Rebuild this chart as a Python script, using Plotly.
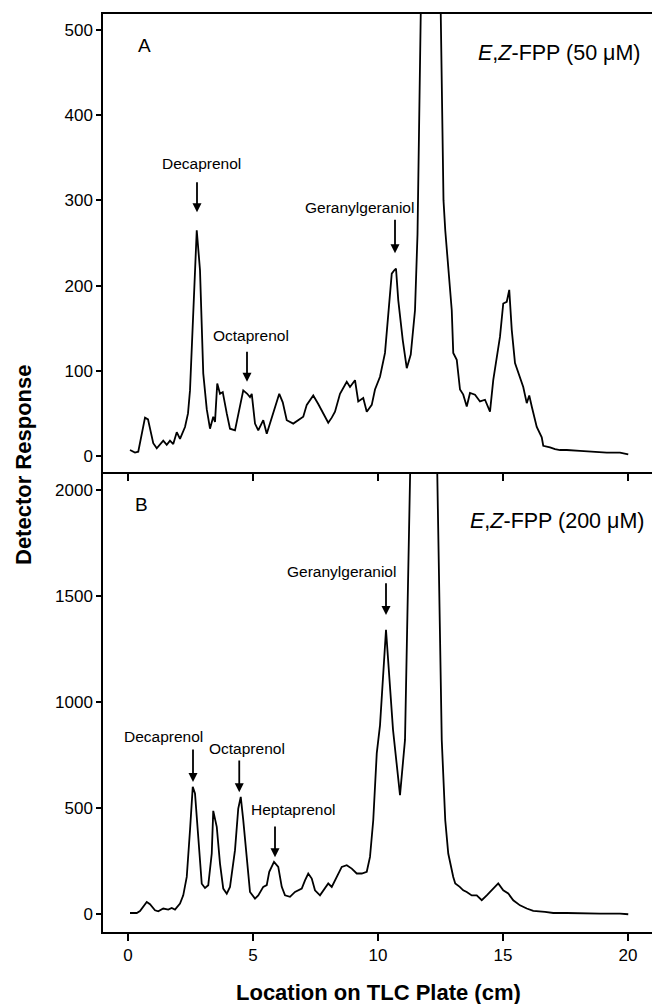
import plotly.graph_objects as go

# Panel A: E,Z-FPP (50 uM)
x_a = [0.08, 0.28, 0.41, 0.55, 0.68, 0.8, 0.9, 1.01, 1.15, 1.28, 1.41, 1.55, 1.68, 1.81, 1.95, 2.08,
       2.28, 2.4, 2.48, 2.75, 2.88, 3.01, 3.15, 3.28, 3.41, 3.48, 3.57, 3.68, 3.79, 3.95, 4.08, 4.28,
       4.41, 4.61, 4.77, 4.88, 4.95, 5.08, 5.21, 5.41, 5.55, 5.75, 5.95, 6.05, 6.19, 6.35, 6.61, 6.88,
       7.01, 7.15, 7.41, 7.61, 7.81, 8.01, 8.15, 8.28, 8.48, 8.75, 8.88, 9.08, 9.21, 9.41, 9.55, 9.75,
       9.88, 10.08, 10.28, 10.41, 10.55, 10.65, 10.72, 10.81, 10.99, 11.15, 11.31, 11.48, 11.58, 11.71,
       12.1, 12.51, 12.62, 12.69, 12.82, 12.95, 13.01, 13.15, 13.28, 13.41, 13.55, 13.68, 13.88, 14.08,
       14.28, 14.48, 14.61, 14.75, 14.88, 15.01, 15.15, 15.25, 15.35, 15.48, 15.68, 15.81, 15.95, 16.05,
       16.15, 16.35, 16.55, 16.61, 16.88, 17.08, 17.28, 17.55, 18.08, 18.61, 19.15, 19.68, 20.01]
y_a = [7, 4, 5, 25, 45, 43, 30, 15, 9, 13, 18, 13, 18, 14, 28, 20,
       34, 50, 77, 265, 218, 97, 55, 32, 46, 40, 85, 73, 75, 50, 32, 30,
       50, 77, 73, 69, 73, 38, 30, 42, 26, 46, 66, 73, 63, 42, 38, 44,
       46, 60, 71, 61, 50, 39, 45, 52, 73, 87, 81, 89, 64, 68, 52, 60,
       78, 93, 121, 171, 214, 218, 220, 183, 136, 103, 119, 171, 260, 519,
       1300, 519, 300, 265, 214, 171, 121, 113, 78, 72, 58, 74, 72, 64,
       66, 52, 89, 117, 140, 179, 181, 195, 148, 109, 93, 81, 62, 71,
       58, 34, 22, 12, 10, 8, 7, 7, 6, 5, 4, 4, 2]

# Panel B: E,Z-FPP (200 uM)
x_b = [0.08, 0.35, 0.48, 0.75, 0.88, 1.08, 1.21, 1.41, 1.61, 1.75, 1.88, 2.08, 2.21, 2.35, 2.48, 2.59,
       2.68, 2.81, 2.95, 3.08, 3.21, 3.35, 3.41, 3.55, 3.68, 3.81, 3.95, 4.08, 4.28, 4.41, 4.51, 4.61,
       4.75, 4.88, 5.08, 5.21, 5.41, 5.55, 5.65, 5.84, 6.01, 6.15, 6.28, 6.48, 6.68, 6.95, 7.08, 7.21,
       7.35, 7.48, 7.68, 7.81, 8.01, 8.15, 8.35, 8.55, 8.75, 8.95, 9.15, 9.35, 9.55, 9.68, 9.81, 9.95,
       10.08, 10.32, 10.6, 10.88, 11.08, 11.28, 11.6, 11.85, 12.1, 12.37, 12.55, 12.69, 12.81, 13.01,
       13.09, 13.27, 13.41, 13.55, 13.75, 13.95, 14.15, 14.35, 14.55, 14.75, 14.81, 15.01, 15.21, 15.41,
       15.68, 15.95, 16.21, 16.68, 17.01, 17.55, 18.21, 18.88, 19.68, 20.01]
y_b = [6, 6, 15, 58, 47, 19, 14, 27, 22, 30, 22, 50, 89, 176, 396, 600,
       569, 365, 144, 124, 137, 286, 487, 412, 239, 121, 97, 129, 302, 498, 553, 443,
       270, 105, 74, 89, 129, 137, 200, 247, 223, 129, 89, 82, 105, 121, 160, 192,
       168, 113, 89, 113, 145, 129, 176, 223, 231, 215, 192, 192, 200, 270, 443, 758,
       890, 1340, 870, 561, 821, 2083, 4000, 4600, 4000, 2083, 821, 443, 286, 176,
       145, 129, 113, 105, 89, 89, 66, 89, 113, 137, 145, 113, 98, 66,
       42, 27, 16, 11, 6, 6, 3, 3, 3, 0]

x_ticks = [0, 5, 10, 15, 20]
y_ticks_a = [0, 100, 200, 300, 400, 500]
y_ticks_b = [0, 500, 1000, 1500, 2000]

# peak labels: (text, label x, label y, arrow x, arrow tail y, arrow head y)
labels_a = [("Decaprenol", 2.94, 343, 2.76, 323, 286),
            ("Octaprenol", 4.92, 141, 4.76, 124, 87),
            ("Geranylgeraniol", 9.24, 292, 10.68, 279, 238)]
labels_b = [("Geranylgeraniol", 8.52, 1613, 10.32, 1566, 1410),
            ("Decaprenol", 1.4, 835, 2.6, 783, 623),
            ("Octaprenol", 4.76, 783, 4.45, 731, 575),
            ("Heptaprenol", 6.6, 495, 5.88, 420, 269)]

FONT = "Liberation Sans, Arial, Helvetica, sans-serif"
W, H = 652, 1004

fig = go.Figure()
fig.add_trace(go.Scatter(x=x_a, y=y_a, mode="lines", line=dict(color="black", width=1.8),
                         xaxis="x", yaxis="y", showlegend=False, hoverinfo="skip"))
fig.add_trace(go.Scatter(x=x_b, y=y_b, mode="lines", line=dict(color="black", width=1.8),
                         xaxis="x2", yaxis="y2", showlegend=False, hoverinfo="skip"))

xr = [-1, (652 - 128) / 25]
dom_x = [103 / W, 1.0]
split = 1 - 472 / H

axis_common = dict(showgrid=False, zeroline=False, showline=True, linecolor="black",
                   ticks="outside", tickcolor="black",
                   tickfont=dict(family=FONT, size=17, color="black"))

fig.update_layout(
    width=W, height=H,
    margin=dict(l=0, r=0, t=0, b=0),
    paper_bgcolor="white", plot_bgcolor="white",
    xaxis=dict(domain=dom_x, range=xr, anchor="y", tickvals=x_ticks, showticklabels=False,
               mirror=True, linewidth=2, ticklen=7, tickwidth=1.5, **axis_common),
    yaxis=dict(domain=[split, 1 - 14 / H], range=[-18.8, 518.8], anchor="x", tickvals=y_ticks_a,
               linewidth=1.5, ticklen=5, tickwidth=1.5, **axis_common),
    xaxis2=dict(domain=dom_x, range=xr, anchor="y2", tickvals=x_ticks,
                linewidth=2, ticklen=7, tickwidth=1.5, **axis_common),
    yaxis2=dict(domain=[1 - 932 / H, split], range=[-83.5, 2083], anchor="x2", tickvals=y_ticks_b,
                linewidth=1.5, ticklen=5, tickwidth=1.5, **axis_common),
)

ann = []
def add_labels(items, xref, yref):
    for text, lx, ly, axx, ty, hy in items:
        ann.append(dict(text=text, x=lx, y=ly, xref=xref, yref=yref, showarrow=False,
                        xanchor="center", yanchor="middle",
                        font=dict(family=FONT, size=15.5, color="black")))
        ann.append(dict(text="", x=axx, y=hy, ax=axx, ay=ty, xref=xref, yref=yref,
                        axref=xref, ayref=yref, showarrow=True, arrowhead=2, arrowsize=1,
                        arrowwidth=1.8, arrowcolor="black", standoff=0))

add_labels(labels_a, "x", "y")
add_labels(labels_b, "x2", "y2")

ann += [
    dict(text="A", x=0.64, y=482, xref="x", yref="y", showarrow=False,
         font=dict(family=FONT, size=19, color="black")),
    dict(text="B", x=0.52, y=1929, xref="x2", yref="y2", showarrow=False,
         font=dict(family=FONT, size=19, color="black")),
    dict(text="<i>E</i>,<i>Z</i>-FPP (50 \u03bcM)", x=20.6, y=473, xref="x", yref="y",
         xanchor="right", yanchor="middle", showarrow=False,
         font=dict(family=FONT, size=21.5, color="black")),
    dict(text="<i>E</i>,<i>Z</i>-FPP (200 \u03bcM)", x=20.76, y=1854, xref="x2", yref="y2",
         xanchor="right", yanchor="middle", showarrow=False,
         font=dict(family=FONT, size=21.5, color="black")),
    dict(text="<b>Detector Response</b>", x=23 / W, y=1 - 465 / H, xref="paper", yref="paper",
         textangle=-90, showarrow=False, xanchor="center", yanchor="middle",
         font=dict(family=FONT, size=22, color="black")),
    dict(text="<b>Location on TLC Plate (cm)</b>", x=378 / W, y=1 - 992 / H, xref="paper",
         yref="paper", showarrow=False, xanchor="center", yanchor="middle",
         font=dict(family=FONT, size=22, color="black")),
]
fig.update_layout(annotations=ann)

fig.write_html("out.html", config={"displayModeBar": False},
               post_script="document.body.style.margin='0px';document.body.style.padding='0px';")
